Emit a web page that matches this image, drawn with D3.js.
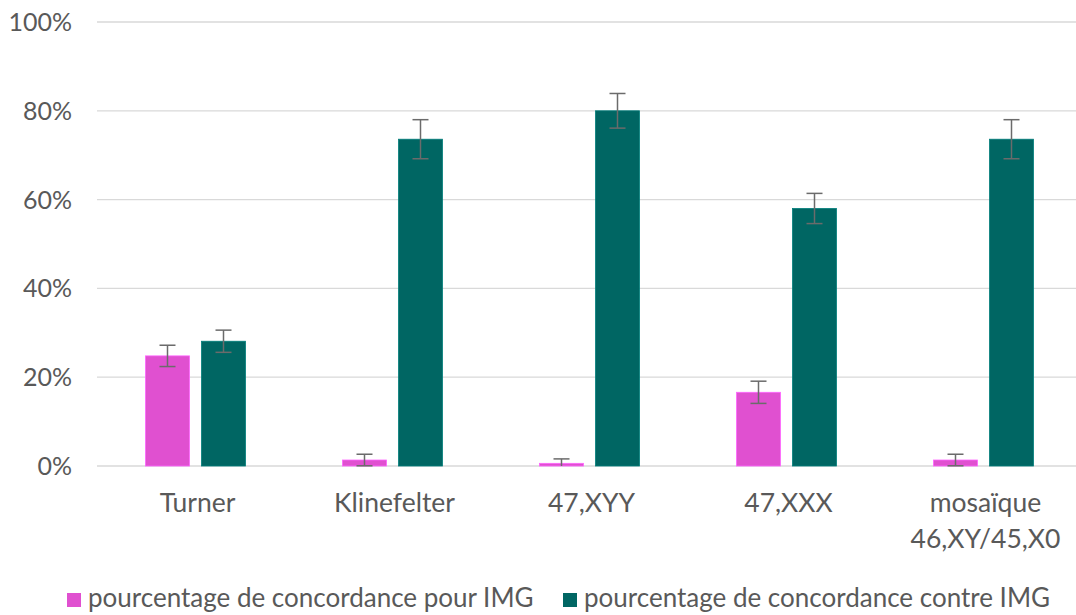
<!DOCTYPE html>
<html><head><meta charset="utf-8">
<script src="https://cdn.jsdelivr.net/npm/d3@7"></script>
<style>body{margin:0;background:#fff;} svg{display:block;font-family:Lato,"Open Sans",sans-serif;}</style>
</head><body><svg id="c" width="1076" height="615"></svg>
<script>
const categories = ["Turner","Klinefelter","47,XYY","47,XXX","mosaïque\n46,XY/45,X0"];
const seriesNames = ["pourcentage de concordance pour IMG","pourcentage de concordance contre IMG"];
const pourIMG = [0.248, 0.0135, 0.006, 0.166, 0.0135];
const pourErr = [0.024, 0.013, 0.010, 0.025, 0.013];
const contreIMG = [0.281, 0.736, 0.80, 0.58, 0.736];
const contreErr = [0.025, 0.044, 0.039, 0.034, 0.044];
const yTicks = [0,0.2,0.4,0.6,0.8,1.0];
const colors = ["#E050D0","#006663"];

const svg = d3.select("#c");
const mLeft = 97, mRight = 1082, mTop = 22, mBottom = 466;
const x = d3.scaleBand().domain(categories).range([mLeft,mRight]);
const y = d3.scaleLinear().domain([0,1]).range([mBottom,mTop]);
const barW = 44, gap = 12;
const fs = 26.5;

// grid
svg.append("g").selectAll("line").data(yTicks).join("line")
  .attr("x1",mLeft).attr("x2",mRight).attr("y1",d=>y(d)).attr("y2",d=>y(d))
  .attr("stroke","#d9d9d9").attr("stroke-width",1.3);

// y labels
svg.append("g").selectAll("text").data(yTicks).join("text")
  .attr("x",72).attr("y",d=>y(d)).attr("dy","0.36em").attr("text-anchor","end")
  .attr("fill","#595959").attr("font-size",25).text(d=>d3.format(".0%")(d));

const series = [pourIMG, contreIMG];
const errs = [pourErr, contreErr];
series.forEach((vals,si)=>{
  const off = si===0 ? -(gap/2+barW) : gap/2;
  const g = svg.append("g");
  g.selectAll("rect").data(vals).join("rect")
    .attr("x",(d,i)=>x(categories[i])+x.bandwidth()/2+off)
    .attr("y",d=>y(d)).attr("width",barW).attr("height",d=>mBottom-y(d))
    .attr("fill",colors[si]).attr("stroke",d3.color(colors[si]).brighter(0.6)).attr("stroke-width",0.8);
  const eg = svg.append("g").attr("stroke","#6b6b6b").attr("stroke-width",1.5);
  vals.forEach((d,i)=>{
    const cx = x(categories[i])+x.bandwidth()/2+off+barW/2;
    const e = errs[si][i];
    const y1 = y(Math.min(d+e,1)), y2 = y(Math.max(d-e,0));
    eg.append("line").attr("x1",cx).attr("x2",cx).attr("y1",y1).attr("y2",y2);
    eg.append("line").attr("x1",cx-8).attr("x2",cx+8).attr("y1",y1).attr("y2",y1);
    if (d-e>0) eg.append("line").attr("x1",cx-8).attr("x2",cx+8).attr("y1",y2).attr("y2",y2);
  });
});

// x labels
categories.forEach(c=>{
  const cx = x(c)+x.bandwidth()/2+2;
  const t = svg.append("text").attr("x",cx).attr("y",502)
    .attr("text-anchor","middle").attr("fill","#595959").attr("font-size",fs);
  c.split("\n").forEach((line,i)=>{
    t.append("tspan").attr("x",cx).attr("dy",i===0?"0.36em":"1.36em").text(line);
  });
});

// legend
const leg = svg.append("g");
const legX = [67, 563];
seriesNames.forEach((n,i)=>{
  leg.append("rect").attr("x",legX[i]).attr("y",593).attr("width",14).attr("height",14).attr("fill",colors[i]);
  leg.append("text").attr("x",legX[i]+21).attr("y",598).attr("dy","0.36em")
    .attr("fill","#595959").attr("font-size",26).text(n);
});
</script></body></html>
